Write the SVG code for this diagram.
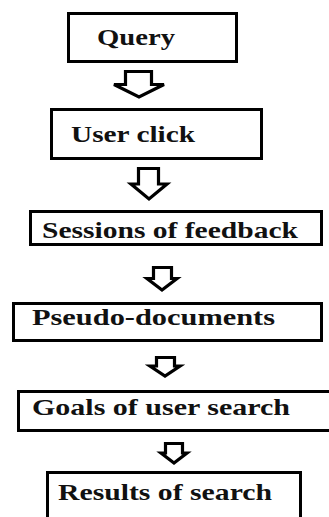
<svg xmlns="http://www.w3.org/2000/svg" width="329" height="517" viewBox="0 0 329 517">
<style>
.box{fill:#fff;stroke:#000;stroke-width:3}
.arr{fill:#fff;stroke:#000;stroke-width:3.2;stroke-linejoin:miter}
text{font-family:"Liberation Serif","Times New Roman",serif;font-weight:bold;font-size:24px;fill:#111}
</style>
<rect width="329" height="517" fill="#fff"/>
<g id="connectors">
<path class="arr" d="M125.5,71.5 H151.5 V84.5 H164 L139,97 L114,84.5 H125.5 Z"/>
<path class="arr" d="M138.5,168.5 H158.5 V184 H167 L149,199 L131,184 H138.5 Z"/>
<path class="arr" d="M153.5,267.5 H171.5 V278.5 H177 L162,290 L147,278.5 H153.5 Z"/>
<path class="arr" d="M156.5,357.5 H174.5 V366 H180 L165,376 L150,366 H156.5 Z"/>
<path class="arr" d="M165.5,443.5 H182.5 V453 H187 L174,463 L161,453 H165.5 Z"/>
</g>
<g id="n1"><rect class="box" x="68.5" y="13.5" width="168" height="48"/><text x="97" y="45" textLength="78" lengthAdjust="spacingAndGlyphs">Query</text></g>
<g id="n2"><rect class="box" x="51.5" y="109.5" width="210" height="49"/><text x="71" y="142" textLength="124" lengthAdjust="spacingAndGlyphs">User click</text></g>
<g id="n3"><rect class="box" x="30.5" y="211.5" width="291" height="33"/><text x="42" y="238" textLength="256" lengthAdjust="spacingAndGlyphs">Sessions of feedback</text></g>
<g id="n4"><rect class="box" x="13.5" y="303.5" width="308" height="37"/><text x="32" y="325" textLength="243" lengthAdjust="spacingAndGlyphs">Pseudo-documents</text></g>
<g id="n5"><rect class="box" x="18.5" y="391.5" width="320" height="39"/><text x="32" y="415" textLength="258" lengthAdjust="spacingAndGlyphs">Goals of user search</text></g>
<g id="n6"><rect class="box" x="47.5" y="472.5" width="253" height="60"/><text x="58" y="500" textLength="214" lengthAdjust="spacingAndGlyphs">Results of search</text></g>
</svg>
